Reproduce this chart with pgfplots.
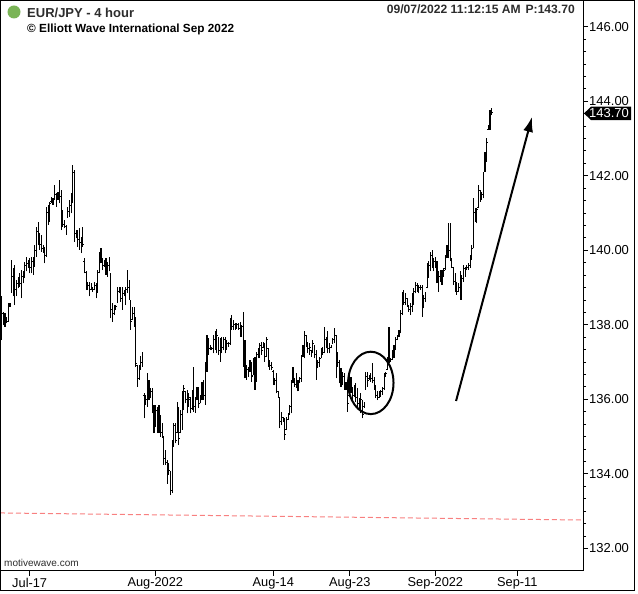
\documentclass[border=0pt]{standalone}
\usepackage{fontspec}
\setmainfont{Liberation Sans}
\usepackage{pgfplots}
\pgfplotsset{compat=1.18}
\usepackage{pgfplotstable}
\usetikzlibrary{arrows.meta}
\definecolor{dotgreen}{RGB}{122,180,86}
\definecolor{hdrgray}{RGB}{45,45,45}
\definecolor{pinkline}{RGB}{248,128,128}

\pgfplotstableread{
k h l o c
0 138.76 137.59 137.80 138.30
1 138.35 137.99 138.30 138.10
2 138.31 137.95 138.10 138.15
3 138.22 138.04 138.15 138.10
4 138.58 138.08 138.10 138.50
5 138.58 138.49 138.50 138.55
6 139.74 138.85 138.90 139.30
7 139.52 138.76 139.30 138.90
8 139.60 138.53 138.90 138.95
9 139.20 138.76 138.95 139.10
10 139.29 138.98 139.10 139.20
11 139.38 139.02 139.20 139.10
12 139.47 138.71 139.10 139.30
13 139.43 139.11 139.30 139.35
14 139.69 139.25 139.35 139.60
15 139.83 139.43 139.60 139.65
16 139.74 139.52 139.65 139.60
17 139.78 139.38 139.60 139.55
18 139.83 139.38 139.55 139.70
19 139.83 139.34 139.70 139.60
20 140.14 139.56 139.60 140.00
21 140.63 139.83 140.00 140.50
22 140.77 140.14 140.50 140.30
23 140.45 140.01 140.30 140.15
24 140.41 139.96 140.15 140.05
25 140.14 139.92 140.05 140.00
26 140.10 139.65 140.00 139.85
27 141.17 139.83 139.85 141.00
28 141.22 140.68 141.00 140.90
29 141.30 140.77 140.90 141.25
30 141.44 141.26 141.30 141.35
31 141.39 141.22 141.35 141.30
32 141.75 141.35 141.40 141.50
33 141.53 141.17 141.50 141.40
34 141.57 141.35 141.40 141.50
35 141.89 141.26 141.50 141.45
36 141.62 140.54 141.45 140.80
37 141.08 140.63 140.80 140.70
38 140.81 140.59 140.70 140.65
39 140.68 140.41 140.65 140.55
40 141.17 140.86 140.90 141.05
41 141.35 140.90 141.05 141.20
42 141.53 140.99 141.20 141.40
43 142.29 141.26 141.40 142.10
44 142.15 140.23 142.10 140.45
45 140.54 140.32 140.45 140.40
46 140.54 140.10 140.40 140.30
47 140.59 140.01 140.30 140.20
48 140.36 139.92 140.20 140.30
49 140.63 140.10 140.30 140.15
50 139.78 139.38 139.70 139.40
51 139.43 138.93 139.40 139.00
52 139.16 138.93 139.00 139.05
53 139.16 138.76 139.05 138.95
54 139.11 138.93 138.95 139.00
55 139.02 138.89 139.00 138.95
56 139.16 138.93 138.95 139.05
57 139.11 138.71 139.05 138.90
58 139.47 138.85 138.90 139.40
59 139.96 139.38 139.40 139.85
60 140.05 139.65 139.85 139.70
61 139.78 139.47 139.70 139.60
62 139.74 139.56 139.60 139.65
63 139.78 139.34 139.65 139.45
64 139.69 139.29 139.45 139.60
65 139.83 139.43 139.60 139.50
66 139.38 138.17 139.30 138.40
67 138.58 138.08 138.40 138.30
68 138.53 138.26 138.30 138.45
69 138.53 138.40 138.45 138.50
70 139.02 138.58 138.60 138.90
71 139.02 138.85 138.90 138.95
72 139.02 138.62 138.95 138.70
73 139.02 138.40 138.70 138.85
74 138.93 138.76 138.85 138.80
75 139.02 138.53 138.80 138.95
76 139.47 138.85 138.95 139.00
77 139.20 138.67 139.00 138.75
78 138.67 137.86 138.60 138.10
79 138.49 138.13 138.15 138.30
80 138.49 137.95 138.30 138.10
81 138.22 136.88 138.10 136.95
82 136.92 136.34 136.90 136.50
83 136.92 136.52 136.55 136.85
84 137.15 136.79 136.85 137.00
85 137.28 136.88 137.00 137.20
86 136.16 135.49 136.10 135.60
87 136.12 135.85 135.90 136.00
88 136.70 135.80 136.00 136.50
89 136.52 135.98 136.50 136.10
90 136.30 136.03 136.10 136.20
91 136.30 135.62 136.20 135.75
92 135.85 135.09 135.75 135.30
93 135.85 135.27 135.30 135.70
94 135.80 135.09 135.70 135.20
95 135.85 135.09 135.20 135.60
96 135.58 135.00 135.55 135.10
97 135.36 134.96 135.10 135.00
98 135.00 134.24 135.00 134.40
99 134.64 134.24 134.40 134.30
100 134.37 133.74 134.30 133.90
101 134.28 133.97 134.00 134.10
102 134.06 133.43 134.05 133.55
103 134.91 133.48 133.55 134.80
104 135.36 134.73 134.80 135.30
105 135.36 134.82 135.30 134.90
106 135.94 135.09 135.10 135.80
107 135.80 134.78 135.70 134.95
108 135.71 135.09 135.10 135.60
109 136.21 135.18 135.60 136.00
110 136.39 135.71 136.00 136.30
111 136.21 135.89 136.20 136.00
112 136.25 135.62 136.00 135.80
113 136.16 135.80 135.85 136.05
114 136.07 135.62 136.00 135.70
115 136.25 135.71 135.75 136.10
116 136.88 135.67 136.10 135.80
117 136.07 135.64 135.80 135.90
118 136.34 135.98 136.00 136.25
119 136.34 135.76 136.25 135.90
120 136.12 135.89 135.90 136.05
121 136.47 135.98 136.05 136.35
122 136.52 135.98 136.35 136.10
123 137.01 135.85 136.10 136.90
124 137.73 136.74 136.90 137.60
125 137.64 137.19 137.60 137.35
126 137.46 137.32 137.35 137.40
127 137.41 137.32 137.40 137.35
128 137.73 137.23 137.35 137.60
129 137.82 137.32 137.60 137.45
130 137.88 137.23 137.45 137.70
131 137.68 137.19 137.65 137.30
132 137.64 137.01 137.30 137.55
133 137.68 137.23 137.55 137.40
134 137.68 137.32 137.40 137.60
135 137.68 137.23 137.60 137.35
136 137.59 137.32 137.35 137.50
137 137.55 137.41 137.50 137.45
138 138.17 137.46 137.50 138.05
139 138.26 137.86 138.05 137.95
140 138.13 137.86 137.95 138.05
141 138.04 137.86 138.00 137.95
142 138.06 137.90 137.95 138.00
143 138.04 137.86 138.00 137.90
144 138.08 137.68 137.90 137.80
145 137.99 137.68 137.80 137.95
146 138.35 136.88 137.95 137.05
147 137.59 136.56 137.05 136.70
148 136.92 136.52 136.70 136.80
149 136.88 136.61 136.80 136.70
150 137.06 136.74 136.75 136.95
151 137.01 136.47 136.95 136.60
152 137.10 136.65 136.65 137.00
153 137.14 136.25 137.00 136.40
154 137.28 136.47 136.50 137.20
155 137.37 137.10 137.20 137.30
156 137.50 137.10 137.30 137.45
157 137.55 137.19 137.45 137.30
158 137.55 137.37 137.40 137.50
159 137.50 137.01 137.50 137.15
160 137.68 137.14 137.15 137.60
161 137.37 136.88 137.35 137.00
162 137.06 136.79 137.00 136.90
163 137.01 136.79 136.90 136.85
164 136.79 136.38 136.75 136.45
165 136.56 136.38 136.45 136.50
166 136.70 136.16 136.50 136.20
167 136.21 136.03 136.20 136.05
168 136.07 135.22 136.05 135.40
169 135.67 135.31 135.40 135.50
170 135.53 135.40 135.50 135.45
171 135.49 134.91 135.45 135.05
172 135.53 135.18 135.20 135.45
173 135.62 135.45 135.45 135.60
174 135.85 135.58 135.60 135.80
175 136.52 135.62 135.80 136.45
176 136.88 136.43 136.45 136.60
177 136.56 136.34 136.55 136.40
178 136.70 136.30 136.40 136.60
179 136.52 136.21 136.50 136.30
180 136.61 136.43 136.45 136.55
181 137.19 136.47 136.55 137.10
182 137.46 137.14 137.15 137.35
183 137.82 137.10 137.35 137.70
184 137.73 137.41 137.70 137.50
185 137.55 137.23 137.50 137.35
186 137.50 137.19 137.35 137.40
187 137.32 137.14 137.30 137.20
188 137.59 137.23 137.25 137.50
189 137.46 137.10 137.45 137.20
190 137.32 136.52 137.20 136.70
191 137.06 136.83 136.85 137.00
192 137.14 136.88 137.00 137.10
193 137.37 137.10 137.10 137.30
194 137.41 137.19 137.30 137.25
195 137.95 137.23 137.25 137.60
196 137.68 137.37 137.60 137.45
197 137.82 137.23 137.45 137.35
198 137.50 137.23 137.35 137.40
199 137.46 137.37 137.40 137.42
200 137.64 137.50 137.50 137.60
201 137.91 137.50 137.60 137.70
202 137.73 136.56 137.70 136.90
203 137.28 136.88 136.90 137.00
204 137.05 136.43 137.00 136.60
205 136.83 136.34 136.60 136.50
206 136.74 136.38 136.50 136.60
207 136.70 136.25 136.60 136.35
208 136.47 136.25 136.35 136.40
209 136.43 135.67 136.40 135.90
210 136.79 136.07 136.10 136.50
211 136.61 136.16 136.50 136.25
212 136.34 135.98 136.25 136.10
213 136.38 136.07 136.10 136.30
214 136.43 135.94 136.30 136.05
215 136.30 135.80 136.05 135.90
216 136.03 135.71 135.90 135.80
217 136.16 135.62 135.80 136.00
218 135.98 135.49 135.95 135.60
219 135.94 135.76 135.80 135.90
220 136.74 136.25 136.30 136.60
221 136.74 136.34 136.60 136.50
222 136.65 136.52 136.55 136.60
223 136.70 136.47 136.60 136.55
224 136.97 136.43 136.55 136.50
225 136.61 136.25 136.50 136.30
226 136.38 136.03 136.30 136.10
227 136.21 135.98 136.10 136.05
228 136.21 136.03 136.05 136.15
229 136.25 136.07 136.15 136.20
230 136.34 136.12 136.20 136.30
231 136.70 136.25 136.30 136.65
232 136.74 136.61 136.65 136.70
233 137.14 136.79 136.80 137.05
234 137.95 136.97 137.05 137.05
235 137.10 137.01 137.05 137.08
236 137.32 137.05 137.08 137.25
237 137.46 137.10 137.25 137.40
238 137.68 137.32 137.40 137.60
239 137.73 137.59 137.60 137.70
240 137.86 137.68 137.70 137.80
241 138.40 137.77 137.80 138.30
242 138.89 138.26 138.30 138.80
243 138.93 138.53 138.80 138.60
244 138.84 138.53 138.60 138.70
245 138.71 138.49 138.70 138.55
246 138.53 138.35 138.50 138.40
247 138.58 138.26 138.40 138.50
248 138.84 138.35 138.50 138.75
249 138.98 138.53 138.75 138.90
250 139.16 138.84 138.90 139.05
251 139.11 138.89 139.05 138.95
252 139.07 138.84 138.95 139.00
253 139.07 138.93 139.00 139.00
254 139.07 138.22 139.00 138.50
255 138.80 138.44 138.50 138.70
256 138.89 138.62 138.70 138.85
257 139.65 138.98 139.00 139.50
258 139.70 139.25 139.50 139.60
259 139.96 139.43 139.60 139.85
260 140.01 139.52 139.85 139.60
261 139.78 139.43 139.60 139.70
262 139.83 139.52 139.70 139.60
263 139.70 139.11 139.60 139.20
264 139.43 138.89 139.20 139.30
265 139.47 139.16 139.30 139.20
266 139.47 139.07 139.20 139.40
267 139.52 139.29 139.40 139.45
268 139.87 139.47 139.50 139.80
269 140.14 139.78 139.80 140.10
270 140.72 139.78 140.10 140.00
271 140.72 139.70 140.00 139.75
272 139.78 139.52 139.75 139.55
273 139.56 139.07 139.55 139.15
274 139.38 138.89 139.15 138.95
275 139.16 138.80 138.95 138.90
276 139.11 138.89 138.90 139.00
277 139.43 138.67 139.00 138.80
278 139.34 138.67 138.80 139.25
279 139.61 139.16 139.25 139.50
280 139.56 139.29 139.50 139.40
281 139.61 139.47 139.50 139.55
282 139.65 139.47 139.55 139.60
283 139.87 139.52 139.60 139.80
284 140.14 139.74 139.80 140.05
285 141.39 140.05 140.05 141.00
286 141.13 140.77 141.00 140.90
287 141.13 140.72 140.90 141.10
288 141.75 141.13 141.15 141.60
289 141.62 141.30 141.60 141.40
290 141.57 141.35 141.40 141.50
291 142.11 141.39 141.50 142.00
292 142.65 142.11 142.11 142.55
293 143.00 142.38 142.55 142.90
294 143.36 143.23 143.25 143.30
295 143.76 143.23 143.30 143.70
296 143.81 143.63 143.70 143.70
}\ohlc

\begin{document}
\begin{tikzpicture}[x=1bp,y=1bp]
\path[use as bounding box, fill=white] (0,0) rectangle (638,594);
\begin{axis}[
  at={(0bp,23.3bp)}, anchor=south west,
  scale only axis, width=583bp, height=570.7bp,
  xmin=-1.03, xmax=351.2, ymin=131.40, ymax=146.717,
  axis line style={line width=1bp},
  tick align=outside,
  xtick pos=left, ytick pos=right,
  xticklabel pos=left, yticklabel pos=right,
  major tick length=5bp, minor tick length=3bp,
  tick style={black, line width=0.8bp},
  xtick={16.9,92.8,164.1,210.3,262.0,311.5},
  xticklabels={Jul-17,Aug-2022,Aug-14,Aug-23,Sep-2022,Sep-11},
  ytick={132,134,...,146},
  minor y tick num=5,
  /pgf/number format/assume math mode=true,
  yticklabel={\pgfmathprintnumber[fixed,fixed zerofill,precision=2]{\tick}},
  xticklabel style={font=\fontsize{12.8bp}{14bp}\selectfont, anchor=north, inner sep=0pt, yshift=-2bp},
  yticklabel style={font=\fontsize{13bp}{15bp}\selectfont, anchor=west, inner sep=0pt, xshift=1bp},
]
\addplot[pinkline, line width=1bp, dash pattern=on 5bp off 3bp] coordinates {(-1.03,132.95) (351.2,132.76)};
\addplot[black, line width=1.1bp, quiver={u=0, v=\thisrow{h}-\thisrow{l}}] table[x=k, y=l] {\ohlc};
\addplot[black, line width=1bp, quiver={u=-0.6, v=0}] table[x=k, y=o] {\ohlc};
\addplot[black, line width=1bp, quiver={u=0.6, v=0}] table[x=k, y=c] {\ohlc};
\draw[black, line width=2bp] (axis cs:223,136.44) ellipse [x radius=22.7bp, y radius=31.2bp];
\draw[black, line width=2bp, -{Latex[length=15bp,width=10bp]}] (axis cs:274.5,135.955) -- (axis cs:320.4,143.58);
\end{axis}
% price marker
\fill[black] (584,480.6) -- (591,487.3) -- (631,487.3) -- (631,473.9) -- (591,473.9) -- cycle;
\node[text=white, inner sep=0, font=\fontsize{13bp}{15bp}\selectfont] at (609,480.6) {143.70};
% header
\fill[dotgreen] (14,582) circle (6.5);
\node[anchor=base west, inner sep=0, text=hdrgray, font=\bfseries\fontsize{13bp}{15bp}\selectfont] at (27,576.7) {EUR/JPY - 4 hour};
\node[anchor=base west, inner sep=0, font=\bfseries\fontsize{11.8bp}{14bp}\selectfont] at (27,561.7) {© Elliott Wave International Sep 2022};
\node[anchor=base east, inner sep=0, text=hdrgray, font=\bfseries\fontsize{12.1bp}{14bp}\selectfont] at (575,580.7) {09/07/2022 11:12:15 AM\hspace{5bp}P:143.70};
\node[anchor=base west, inner sep=0, text=hdrgray, font=\fontsize{10bp}{12bp}\selectfont] at (4,27.3) {motivewave.com};
% frame
\draw[black, line width=1bp] (0.5,3.3) rectangle (634,593.5);
\end{tikzpicture}
\end{document}
